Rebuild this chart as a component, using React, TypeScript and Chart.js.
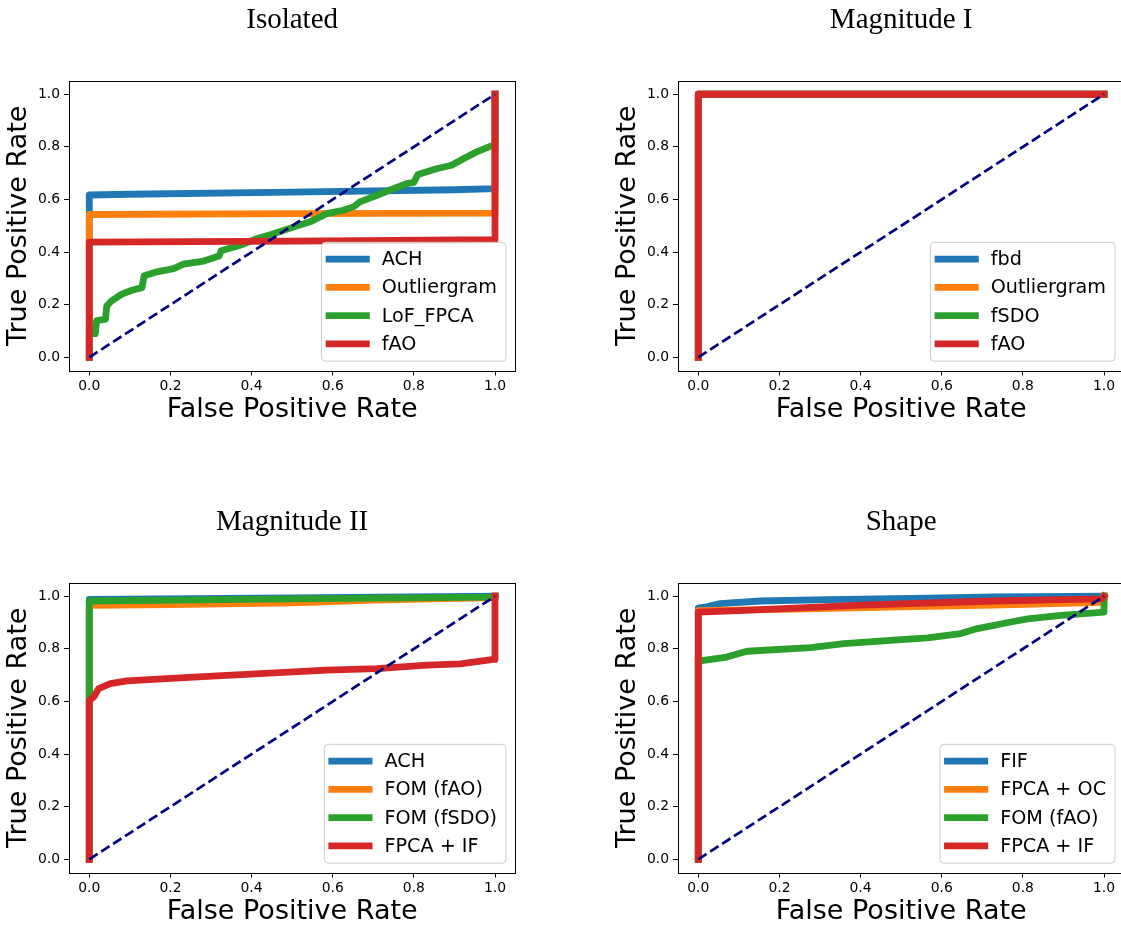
import React, { useEffect, useRef } from 'react';
import { Chart, registerables } from 'chart.js';

Chart.register(...registerables);

type Pt = [number, number];

// ---------- shared axis data ----------
const tickValues = [0, 0.2, 0.4, 0.6, 0.8, 1.0];
const axisMin = -0.05;
const axisMax = 1.05;
const seriesColors = ['#1f77b4', '#ff7f0e', '#2ca02c', '#d62728'];
const chanceLine: Pt[] = [[0, 0], [1, 1]];
const xAxisLabel = 'False Positive Rate';
const yAxisLabel = 'True Positive Rate';

// ---------- Isolated ----------
const isolatedTitle = 'Isolated';
const isolatedLabels = ['ACH', 'Outliergram', 'LoF_FPCA', 'fAO'];
const isolatedACH: Pt[] = [[0, 0], [0, 0.617], [0.1, 0.62], [0.5, 0.628], [0.9, 0.637], [1, 0.641], [1, 1]];
const isolatedOutliergram: Pt[] = [[0, 0], [0, 0.543], [0.5, 0.546], [1, 0.548], [1, 1]];
const isolatedLoF: Pt[] = [
  [0, 0], [0, 0.09], [0.015, 0.09], [0.018, 0.14], [0.04, 0.145], [0.043, 0.195], [0.055, 0.215],
  [0.08, 0.24], [0.105, 0.255], [0.13, 0.265], [0.135, 0.31], [0.167, 0.325], [0.208, 0.337],
  [0.232, 0.354], [0.282, 0.366], [0.32, 0.385], [0.325, 0.405], [0.372, 0.426], [0.413, 0.451],
  [0.454, 0.47], [0.503, 0.495], [0.544, 0.515], [0.585, 0.546], [0.626, 0.559], [0.651, 0.572],
  [0.667, 0.591], [0.709, 0.616], [0.75, 0.641], [0.782, 0.66], [0.8, 0.665], [0.81, 0.695],
  [0.856, 0.717], [0.893, 0.73], [0.922, 0.755], [0.955, 0.781], [0.988, 0.802], [1, 0.805], [1, 1],
];
const isolatedFAO: Pt[] = [[0, 0], [0, 0.438], [0.5, 0.442], [1, 0.447], [1, 1]];

// ---------- Magnitude I ----------
const magnitude1Title = 'Magnitude I';
const magnitude1Labels = ['fbd', 'Outliergram', 'fSDO', 'fAO'];
const magnitude1Fbd: Pt[] = [[0, 0], [0, 1], [1, 1]];
const magnitude1Outliergram: Pt[] = [[0, 0], [0, 1], [1, 1]];
const magnitude1FSDO: Pt[] = [[0, 0], [0, 1], [1, 1]];
const magnitude1FAO: Pt[] = [[0, 0], [0, 1], [1, 1]];

// ---------- Magnitude II ----------
const magnitude2Title = 'Magnitude II';
const magnitude2Labels = ['ACH', 'FOM (fAO)', 'FOM (fSDO)', 'FPCA + IF'];
const magnitude2ACH: Pt[] = [[0, 0], [0, 0.988], [0.5, 0.994], [1, 1]];
const magnitude2FomFAO: Pt[] = [[0, 0], [0, 0.965], [0.2, 0.968], [0.5, 0.975], [0.7, 0.985], [1, 0.995], [1, 1]];
const magnitude2FomFSDO: Pt[] = [[0, 0], [0, 0.982], [0.5, 0.99], [1, 0.997], [1, 1]];
const magnitude2FpcaIF: Pt[] = [
  [0, 0], [0, 0.605], [0.011, 0.617], [0.023, 0.649], [0.052, 0.668], [0.093, 0.678], [0.257, 0.693],
  [0.421, 0.706], [0.585, 0.719], [0.709, 0.725], [0.832, 0.738], [0.914, 0.743], [0.996, 0.76],
  [1, 0.76], [1, 1],
];

// ---------- Shape ----------
const shapeTitle = 'Shape';
const shapeLabels = ['FIF', 'FPCA + OC', 'FOM (fAO)', 'FPCA + IF'];
const shapeFIF: Pt[] = [
  [0, 0], [0, 0.955], [0.02, 0.96], [0.054, 0.972], [0.153, 0.982], [0.318, 0.987], [0.565, 0.993],
  [0.729, 0.998], [1, 1],
];
const shapeFpcaOC: Pt[] = [[0, 0], [0, 0.945], [0.236, 0.951], [0.5, 0.96], [0.729, 0.966], [0.975, 0.976], [1, 0.978], [1, 1]];
const shapeFomFAO: Pt[] = [
  [0, 0], [0, 0.754], [0.005, 0.754], [0.07, 0.769], [0.12, 0.791], [0.277, 0.805], [0.359, 0.82],
  [0.482, 0.833], [0.565, 0.842], [0.647, 0.858], [0.688, 0.877], [0.77, 0.902], [0.812, 0.914],
  [0.894, 0.927], [1, 0.94], [1, 1],
];
const shapeFpcaIF: Pt[] = [[0, 0], [0, 0.94], [0.1, 0.945], [0.4, 0.966], [0.729, 0.982], [0.995, 0.99], [1, 1]];

// ---------- layout constants ----------
const CANVAS_W = 560;
const CANVAS_H = 460;
const AREA_LEFT = 69;
const AREA_RIGHT = 515.3;
const AREA_TOP = 81.1;
const AREA_BOTTOM = 370.5;
const CURVE_WIDTH = 6.8;
const LEGEND_FS = 19.2;
const LABEL_FS = 27;
const TITLE_FS = 29;

const sansFamily = '"DejaVu Sans", sans-serif';
const serifFamily = '"Liberation Serif", serif';

const framePlugin = {
  id: 'axesFrame',
  afterDatasetsDraw(chart: any) {
    const { ctx, chartArea } = chart;
    ctx.save();
    ctx.strokeStyle = '#000';
    ctx.lineWidth = 1;
    ctx.strokeRect(
      Math.round(chartArea.left) + 0.5,
      Math.round(chartArea.top) + 0.5,
      Math.round(chartArea.right) - Math.round(chartArea.left),
      Math.round(chartArea.bottom) - Math.round(chartArea.top)
    );
    ctx.restore();
  },
};

const innerLegendPlugin = {
  id: 'innerLegend',
  afterDraw(chart: any) {
    const { ctx, chartArea } = chart;
    const items = chart.data.datasets.filter((d: any) => d.label);
    const fs = LEGEND_FS;
    const pad = 0.4 * fs;
    const hl = 2.0 * fs;
    const htp = 0.8 * fs;
    const ls = 0.5 * fs;
    const rowH = 18.75;
    const axPad = 9.3;
    ctx.save();
    ctx.font = `${fs}px ${sansFamily}`;
    let maxW = 0;
    items.forEach((d: any) => {
      maxW = Math.max(maxW, ctx.measureText(d.label).width);
    });
    const w = 2 * pad + hl + htp + maxW;
    const h = 2 * pad + items.length * rowH + (items.length - 1) * 9.5;
    const x0 = chartArea.right - axPad - w;
    const y0 = chartArea.bottom - axPad - h;
    ctx.beginPath();
    (ctx as any).roundRect(x0, y0, w, h, 4);
    ctx.fillStyle = 'rgba(255,255,255,0.8)';
    ctx.fill();
    ctx.strokeStyle = '#cccccc';
    ctx.lineWidth = 1;
    ctx.stroke();
    items.forEach((d: any, i: number) => {
      const cy = y0 + 7.5 + rowH / 2 + i * (rowH + 9.5);
      ctx.beginPath();
      ctx.moveTo(x0 + 7.5, cy);
      ctx.lineTo(x0 + 7.5 + 37.3, cy);
      ctx.strokeStyle = d.borderColor;
      ctx.lineWidth = CURVE_WIDTH;
      ctx.lineCap = 'square';
      ctx.stroke();
      ctx.fillStyle = '#000';
      ctx.textBaseline = 'middle';
      ctx.textAlign = 'left';
      ctx.fillText(d.label, x0 + 7.5 + 37.3 + htp, cy + 1);
    });
    ctx.restore();
    void ls;
  },
};

function toXY(pts: Pt[]) {
  return pts.map(([x, y]) => ({ x, y }));
}

function axisScale(isX: boolean) {
  return {
    type: 'linear',
    position: isX ? 'bottom' : 'left',
    min: axisMin,
    max: axisMax,
    afterBuildTicks: (s: any) => {
      s.ticks = tickValues.map((v) => ({ value: v }));
    },
    afterFit: (s: any) => {
      if (isX) s.height = CANVAS_H - AREA_BOTTOM;
      else s.width = AREA_LEFT;
    },
    ticks: {
      font: { family: sansFamily, size: 13.9 },
      color: '#000',
      padding: isX ? 3 : 4,
      maxRotation: 0,
      autoSkip: false,
      callback: (v: any) => Number(v).toFixed(1),
    },
    grid: {
      display: true,
      drawOnChartArea: false,
      drawTicks: true,
      tickLength: 5,
      color: '#000',
      tickColor: '#000',
      lineWidth: 1,
    },
    border: { display: false },
    title: {
      display: true,
      text: isX ? xAxisLabel : yAxisLabel,
      font: { family: sansFamily, size: LABEL_FS },
      color: '#000',
      padding: isX ? { top: 0, bottom: 33.6 } : { top: 3.0, bottom: 0 },
    },
  };
}

function RocPanel(props: { title: string; labels: string[]; series: Pt[][]; left: number; top: number }) {
  const ref = useRef<HTMLCanvasElement>(null);
  useEffect(() => {
    const canvas = ref.current;
    if (!canvas) return;
    const n = props.series.length;
    const datasets: any[] = props.series.map((pts, i) => ({
      label: props.labels[i],
      data: toXY(pts),
      borderColor: seriesColors[i],
      backgroundColor: seriesColors[i],
      borderWidth: CURVE_WIDTH,
      borderCapStyle: 'square',
      borderJoinStyle: 'round',
      pointRadius: 0,
      pointHoverRadius: 0,
      fill: false,
      tension: 0,
      order: n - i,
    }));
    datasets.push({
      label: '',
      data: toXY(chanceLine),
      borderColor: '#000080',
      backgroundColor: '#000080',
      borderWidth: 2.7,
      borderDash: [9.9, 4.3],
      borderCapStyle: 'butt',
      pointRadius: 0,
      pointHoverRadius: 0,
      fill: false,
      tension: 0,
      order: 0,
    });
    const titlePadTop = 3.3;
    const chart = new Chart(canvas, {
      type: 'line',
      data: { datasets },
      options: {
        animation: false,
        responsive: false,
        devicePixelRatio: 1,
        events: [],
        parsing: false,
        layout: { padding: { left: 0, right: CANVAS_W - AREA_RIGHT, top: 0, bottom: 0 } },
        scales: {
          x: axisScale(true) as any,
          y: axisScale(false) as any,
        },
        plugins: {
          legend: { display: false },
          tooltip: { enabled: false },
          title: {
            display: true,
            text: props.title,
            fullSize: false,
            color: '#000',
            font: { family: serifFamily, size: TITLE_FS, weight: 'normal' },
            padding: { top: titlePadTop, bottom: AREA_TOP - TITLE_FS * 1.2 - titlePadTop },
          },
        },
      } as any,
      plugins: [framePlugin, innerLegendPlugin],
    });
    return () => chart.destroy();
  }, []);
  return (
    <canvas
      ref={ref}
      width={CANVAS_W}
      height={CANVAS_H}
      style={{ position: 'absolute', left: props.left, top: props.top, width: CANVAS_W, height: CANVAS_H }}
    />
  );
}

export default function App() {
  return (
    <div
      style={{
        position: 'absolute',
        left: 0,
        top: 0,
        width: 1121,
        height: 925,
        overflow: 'hidden',
        background: '#ffffff',
      }}
    >
      <RocPanel
        title={isolatedTitle}
        labels={isolatedLabels}
        series={[isolatedACH, isolatedOutliergram, isolatedLoF, isolatedFAO]}
        left={0}
        top={0}
      />
      <RocPanel
        title={magnitude1Title}
        labels={magnitude1Labels}
        series={[magnitude1Fbd, magnitude1Outliergram, magnitude1FSDO, magnitude1FAO]}
        left={609}
        top={0}
      />
      <RocPanel
        title={magnitude2Title}
        labels={magnitude2Labels}
        series={[magnitude2ACH, magnitude2FomFAO, magnitude2FomFSDO, magnitude2FpcaIF]}
        left={0}
        top={502}
      />
      <RocPanel
        title={shapeTitle}
        labels={shapeLabels}
        series={[shapeFIF, shapeFpcaOC, shapeFomFAO, shapeFpcaIF]}
        left={609}
        top={502}
      />
    </div>
  );
}
